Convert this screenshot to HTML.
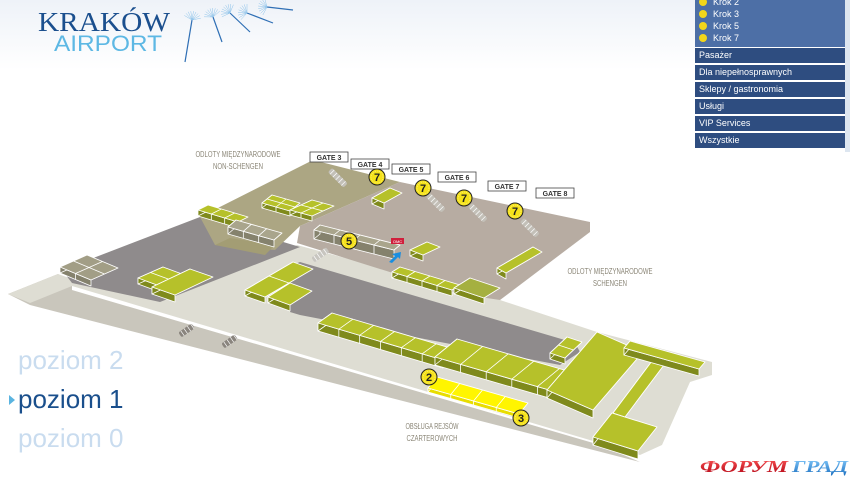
<!DOCTYPE html>
<html><head><meta charset="utf-8">
<style>
html,body{margin:0;padding:0;width:850px;height:477px;overflow:hidden;background:#fff;}
#wrap{position:relative;width:850px;height:477px;background:linear-gradient(#eef2f8 0px,#fff 70px);}
svg{position:absolute;left:0;top:0;}
.menu{position:absolute;left:695px;top:0;width:155px;height:152px;background:#fff;}
.krok{position:absolute;left:0;top:0;width:150px;height:47px;background:#4d6fa6;}
.krok div{height:12px;font:9px "Liberation Sans",sans-serif;color:#fff;padding-left:4px;line-height:12px;}
.krok span{display:inline-block;width:8px;height:8px;border-radius:50%;background:#f2d61a;margin-right:6px;vertical-align:-1px;}
.row{position:absolute;left:0;width:150px;height:15px;background:#2e4d80;font:9px "Liberation Sans",sans-serif;color:#fff;line-height:15px;padding-left:4px;box-sizing:border-box;}
.edge{position:absolute;left:150px;top:0;width:5px;height:152px;background:#dde6f0;}
</style></head><body><div id="wrap">
<svg id="s" width="850" height="477" viewBox="0 0 850 477" xmlns="http://www.w3.org/2000/svg"></svg>
<div class="menu">
 <div class="krok">
  <div style="margin-top:-4px"><span></span>Krok 2</div>
  <div><span></span>Krok 3</div>
  <div><span></span>Krok 5</div>
  <div><span></span>Krok 7</div>
 </div>
 <div class="row" style="top:48px">Pasażer</div>
 <div class="row" style="top:65px">Dla niepełnosprawnych</div>
 <div class="row" style="top:82px">Sklepy / gastronomia</div>
 <div class="row" style="top:99px">Usługi</div>
 <div class="row" style="top:116px">VIP Services</div>
 <div class="row" style="top:133px">Wszystkie</div>
 <div class="edge"></div>
</div>
</div>
<script>
var s=document.getElementById('s');var out='';
function P(pts,fill,stroke,sw){out+='<polygon points="'+pts.map(function(p){return p[0].toFixed(1)+','+p[1].toFixed(1)}).join(' ')+'" fill="'+fill+'"'+(stroke?' stroke="'+stroke+'" stroke-width="'+(sw||1)+'" stroke-linejoin="round"':'')+'/>';}
function L(a,b,c,w){out+='<line x1="'+a[0]+'" y1="'+a[1]+'" x2="'+b[0]+'" y2="'+b[1]+'" stroke="'+c+'" stroke-width="'+(w||1)+'"/>';}
function add(a,b,k){return [a[0]+b[0]*k,a[1]+b[1]*k];}
function box(x,y,ux,uy,vx,vy,h,top,side,nu,nv){
 var p=[x,y],u=[ux,uy],v=[vx,vy];
 var a=p,b=add(p,u,1),c=add(b,v,1),d=add(p,v,1);
 var dn=function(q){return [q[0],q[1]+h];};
 P([d,c,dn(c),dn(d)],side,'#fff',0.8);
 if(vx<0)P([a,d,dn(d),dn(a)],side,'#fff',0.8);
 else P([b,c,dn(c),dn(b)],side,'#fff',0.8);
 P([a,b,c,d],top,'#fff',0.9);
 nu=nu||1;nv=nv||1;
 for(var i=1;i<nu;i++){var q=add(p,u,i/nu);L(q,add(q,v,1),'#fff',0.8);var r=add(q,v,1);L(r,[r[0],r[1]+h],'#fff',0.8);}
 for(var j=1;j<nv;j++){var q=add(p,v,j/nv);L(q,add(q,u,1),'#fff',0.8);}
}
var G='#b6c12a',GS='#7f8a1c',GR='#a9a58c',GRS='#85826d';
P([[8,294],[58,274],[72,282],[72,290],[600,445],[640,462],[30,305]],'#c9c6bc');
P([[8,294],[58,274],[75,280],[160,300],[297,245],[500,300],[597,332],[712,362],[712,375],[690,382],[662,445],[640,455],[72,286],[30,303]],'#deddd3');
P([[62,270],[200,217],[300,247],[160,302],[72,283]],'#8f8b8c');
P([[200,217],[313,160],[400,182],[300,226],[275,250],[215,245]],'#aca683');
P([[215,245],[230,238],[275,245],[265,255]],'#a39d74');
P([[400,182],[590,222],[590,232],[500,300],[460,294],[297,243],[300,226]],'#b7aca2');
P([[290,266],[300,262],[575,343],[580,352],[560,365],[300,315],[290,312]],'#8f8b8c');
function stairs(x,y,ang,len,col){out+='<g transform="translate('+x+','+y+') rotate('+ang+')"><rect x="0" y="-3" width="'+len+'" height="6" rx="2" fill="'+col+'"/>';for(var i=3;i<len;i+=4)out+='<line x1="'+i+'" y1="-3" x2="'+i+'" y2="3" stroke="#fff" stroke-width="0.7"/>';out+='</g>';}
stairs(330,170,45,22,'#c3c0b8');stairs(428,195,45,22,'#c3c0b8');stairs(470,205,45,22,'#c3c0b8');stairs(522,220,45,22,'#c3c0b8');
stairs(313,260,-35,18,'#c8c6c0');stairs(180,335,-35,16,'#8a857e');stairs(223,346,-35,16,'#8a857e');
box(87,255,31,13,-27,12,6,'#a29e86',GRS,2,2);
box(163,267,19,7,-25,11,6,G,GS,1,2);
box(190,269,23,8,-38,18,7,G,GS);
box(208,205,40,12,-10,5,6,G,GS,3,1);
box(236,220,46,13,-8,7,7,GR,GRS,3,1);
box(272,195,28,8,-10,8,5,G,GS,2,2);
box(312,200,22,6,-22,10,5,G,GS,2,2);
box(320,225,80,20,-6,5,9,GR,GRS,4,1);
box(390,188,12,5,-18,10,6,G,GS);
box(427,242,13,5,-17,8,6,G,GS);
box(533,247,9,5,-36,21,6,G,GS);
box(400,267,60,18,-8,5,6,G,GS,4,1);
box(470,278,30,10,-16,10,6,'#a5b040',GS);
box(293,262,20,7,-48,28,6,G,GS,1,2);
box(290,283,22,8,-22,14,6,G,GS,1,1);
box(332,313,125,37,-14,10,8,G,GS,6,1);
box(457,339,128,37,-22,18,8,G,GS,5,1);
box(567,337,15,5,-17,16,6,G,GS,1,2);
box(655,357,12,4,-42,56,7,G,GS);
box(597,332,46,20,-50,58,8,G,GS);
box(630,341,75,21,-6,7,7,G,GS);
box(612,413,45,14,-19,24,8,G,GS);
box(437,377,91,26,-9,11,4,'#fff500','#e8dd00',4,1);
out+='<rect x="391" y="238" width="13" height="6" fill="#d01f3c"/><text x="397.5" y="243" font-size="4" fill="#fff" text-anchor="middle" font-family="Liberation Sans">OMC</text>';
P([[389,262],[395,256],[392,254],[401,252],[400,259],[398,257],[392,263]],'#1a8ee0');
var gates=[[310,152,'GATE 3'],[351,159,'GATE 4'],[392,164,'GATE 5'],[438,172,'GATE 6'],[488,181,'GATE 7'],[536,188,'GATE 8']];
gates.forEach(function(g){out+='<rect x="'+g[0]+'" y="'+g[1]+'" width="38" height="10" fill="#fff" stroke="#444" stroke-width="0.8"/><text x="'+(g[0]+19)+'" y="'+(g[1]+7.8)+'" font-size="7" font-weight="bold" fill="#333" text-anchor="middle" font-family="Liberation Sans">'+g[2]+'</text>';});
[[377,177,'7'],[423,188,'7'],[464,198,'7'],[515,211,'7'],[349,241,'5'],[429,377,'2'],[521,418,'3']].forEach(function(c){out+='<circle cx="'+c[0]+'" cy="'+c[1]+'" r="8" fill="#f5e21a" stroke="#222" stroke-width="1"/><circle cx="'+c[0]+'" cy="'+c[1]+'" r="6" fill="none" stroke="#fff59a" stroke-width="0.6" stroke-dasharray="1 1"/><text x="'+c[0]+'" y="'+(c[1]+4)+'" font-size="11" font-weight="bold" fill="#222" text-anchor="middle" font-family="Liberation Sans">'+c[2]+'</text>';});
function lbl(x,y,t,w){out+='<text x="'+x+'" y="'+y+'" font-size="8" fill="#8a8576" text-anchor="middle" font-family="Liberation Sans" textLength="'+w+'" lengthAdjust="spacingAndGlyphs">'+t+'</text>';}
lbl(238,157,'ODLOTY MIĘDZYNARODOWE',85);lbl(238,169,'NON-SCHENGEN',50);
lbl(610,274,'ODLOTY MIĘDZYNARODOWE',85);lbl(610,286,'SCHENGEN',34);
lbl(432,429,'OBSŁUGA REJSÓW',53);lbl(432,441,'CZARTEROWYCH',51);
out+='<text x="38" y="31" font-size="27" fill="#1b4f8e" font-family="Liberation Serif" textLength="132" lengthAdjust="spacingAndGlyphs">KRAKÓW</text>';
out+='<text x="54" y="51" font-size="22" fill="#5db8e4" font-family="Liberation Sans" textLength="108" lengthAdjust="spacingAndGlyphs">AIRPORT</text>';
[[185,62,192,20],[222,42,213,17],[250,32,230,13],[273,23,247,13],[293,10,267,7]].forEach(function(d){out+='<line x1="'+d[0]+'" y1="'+d[1]+'" x2="'+d[2]+'" y2="'+d[3]+'" stroke="#2f6fb5" stroke-width="1.2"/>';for(var k=-4;k<=4;k++){var ang=Math.atan2(d[3]-d[1],d[2]-d[0])+k*0.3;out+='<line x1="'+d[2]+'" y1="'+d[3]+'" x2="'+(d[2]+Math.cos(ang)*9).toFixed(1)+'" y2="'+(d[3]+Math.sin(ang)*9).toFixed(1)+'" stroke="#8ec3ea" stroke-width="0.5"/>';}});
out+='<text x="18" y="369" font-size="26" fill="#c9dcef" font-family="Liberation Sans">poziom 2</text>';
out+='<text x="18" y="408" font-size="26" fill="#1a4f8c" font-family="Liberation Sans">poziom 1</text>';
out+='<polygon points="9,395 15,400 9,405" fill="#5ab4e0"/>';
out+='<text x="18" y="447" font-size="26" fill="#c9dcef" font-family="Liberation Sans">poziom 0</text>';
out+='<defs><linearGradient id="rg" x1="0" y1="0" x2="0" y2="1"><stop offset="0" stop-color="#ff5a5a"/><stop offset="1" stop-color="#b00010"/></linearGradient><linearGradient id="bg" x1="0" y1="0" x2="0" y2="1"><stop offset="0" stop-color="#8cd0ff"/><stop offset="1" stop-color="#1a6fc0"/></linearGradient></defs>';
out+='<text x="700" y="472" font-size="17" font-weight="bold" font-style="italic" fill="url(#rg)" font-family="Liberation Serif" textLength="88" lengthAdjust="spacingAndGlyphs">ФОРУМ</text>';
out+='<text x="792" y="472" font-size="17" font-weight="bold" font-style="italic" fill="url(#bg)" font-family="Liberation Serif" textLength="56" lengthAdjust="spacingAndGlyphs">ГРАД</text>';
s.innerHTML=out;
</script>
</body></html>
